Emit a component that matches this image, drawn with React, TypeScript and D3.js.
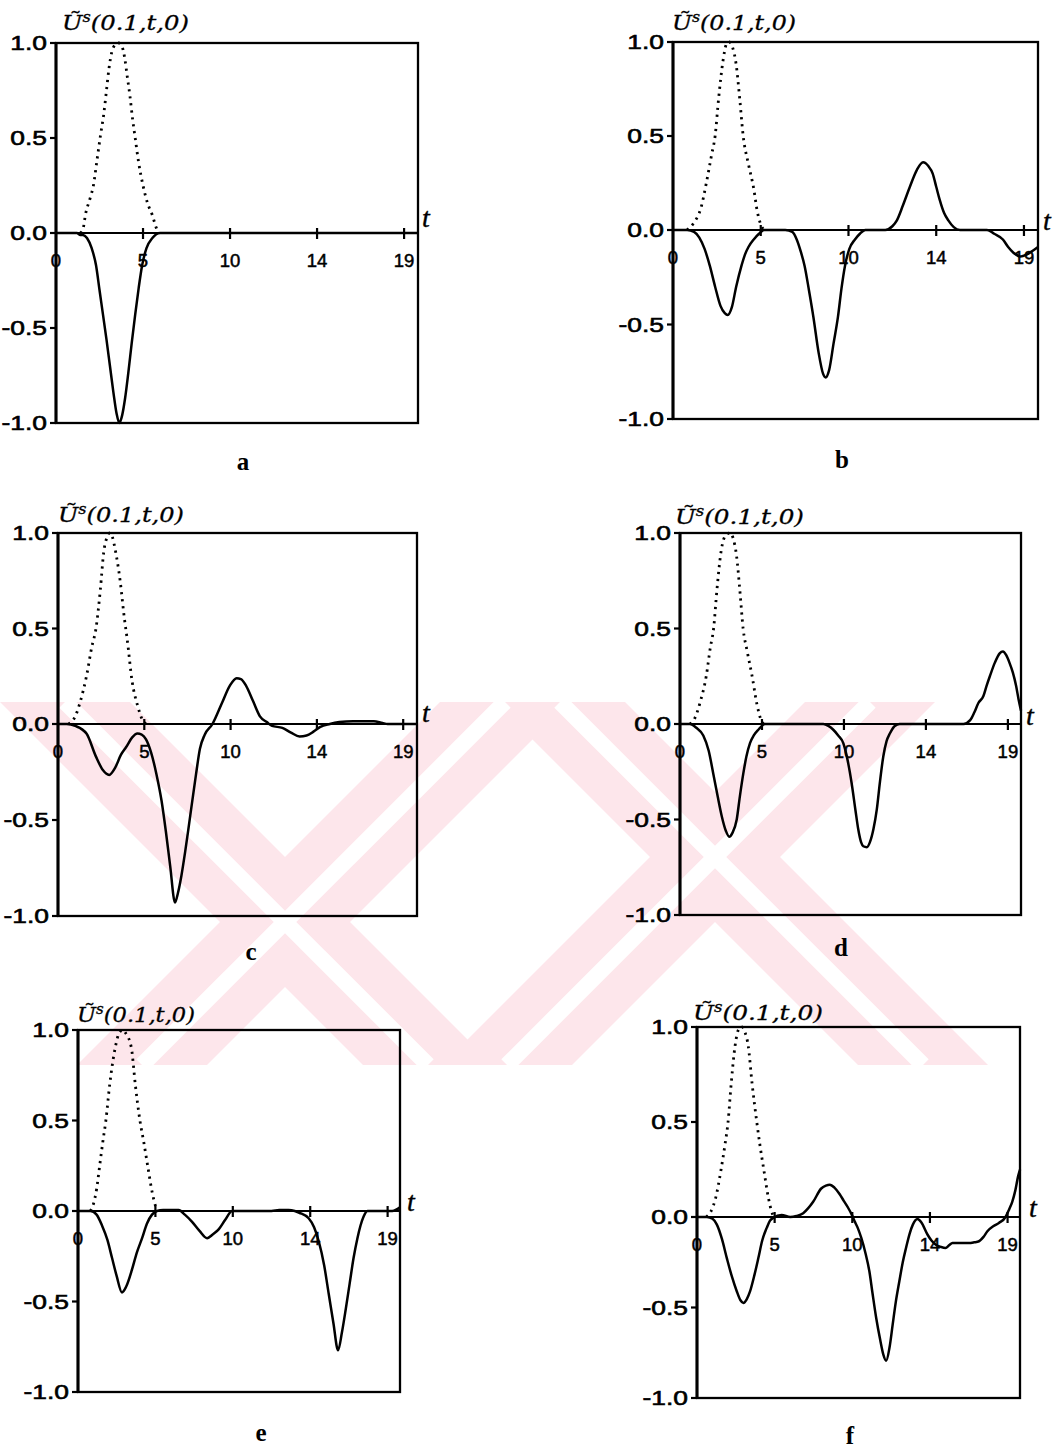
import React from "react";
import * as d3 from "d3";

type Pt = [number, number];

// axis ticks (x positions are equally spaced, labels are the printed ones)
const xTickPos = [0, 5, 10, 15, 20];
const xTickLabels = ["0", "5", "10", "14", "19"];
const yTickVals = [1, 0.5, 0, -0.5, -1];
const yTickLabels = ["1.0", "0.5", "0.0", "-0.5", "-1.0"];
const panelLetters = ["a", "b", "c", "d", "e", "f"];

// dotted input pulse and solid response
const pulseA: Pt[] = [[1.4,0],[1.55,0.02],[1.7,0.1],[1.95,0.18],[2.15,0.25],[2.35,0.38],[2.55,0.51],[2.75,0.63],[2.9,0.75],[3.05,0.87],[3.2,0.95],[3.4,0.99],[3.6,1.0],[3.8,0.98],[3.95,0.92],[4.1,0.82],[4.25,0.72],[4.4,0.6],[4.55,0.5],[4.75,0.37],[5.0,0.25],[5.25,0.16],[5.55,0.09],[5.75,0.03],[5.9,0]];
const respA: Pt[] = [[0,0],[1.2,0],[1.4,-0.01],[1.55,-0.01],[1.78,-0.026],[2.05,-0.08],[2.3,-0.17],[2.5,-0.3],[2.7,-0.43],[2.9,-0.56],[3.1,-0.7],[3.3,-0.84],[3.48,-0.95],[3.64,-1.0],[3.8,-0.96],[3.97,-0.87],[4.15,-0.74],[4.35,-0.58],[4.55,-0.43],[4.75,-0.29],[4.95,-0.17],[5.2,-0.08],[5.55,-0.025],[5.98,0],[20.8,0]];

const pulseB: Pt[] = [[0.8,0],[1.2,0.04],[1.6,0.12],[1.9,0.25],[2.2,0.4],[2.4,0.5],[2.6,0.7],[2.85,0.9],[3.05,0.99],[3.2,1.0],[3.4,0.97],[3.6,0.88],[3.8,0.7],[4.0,0.5],[4.3,0.35],[4.6,0.22],[4.8,0.1],[5.0,0.03],[5.2,0]];
const respB: Pt[] = [[0,0],[0.8,0],[1.2,-0.01],[1.5,-0.04],[1.8,-0.1],[2.1,-0.19],[2.4,-0.3],[2.7,-0.4],[2.95,-0.44],[3.12,-0.45],[3.35,-0.41],[3.6,-0.3],[3.9,-0.19],[4.1,-0.13],[4.3,-0.09],[4.6,-0.05],[4.9,-0.02],[5.2,0],[6.4,0],[6.8,-0.01],[7.05,-0.05],[7.3,-0.12],[7.5,-0.19],[7.75,-0.32],[8.0,-0.46],[8.3,-0.65],[8.55,-0.76],[8.7,-0.78],[8.9,-0.74],[9.15,-0.6],[9.4,-0.46],[9.6,-0.31],[9.8,-0.19],[10.05,-0.1],[10.37,-0.05],[10.65,-0.02],[10.96,0],[12.1,0],[12.5,0.02],[12.75,0.05],[13.1,0.13],[13.5,0.23],[13.9,0.32],[14.25,0.36],[14.55,0.34],[14.8,0.3],[15.0,0.23],[15.2,0.16],[15.45,0.09],[15.7,0.05],[16.0,0.015],[16.35,0],[17.9,0],[18.3,-0.02],[18.8,-0.05],[19.1,-0.09],[19.4,-0.12],[19.8,-0.14],[20.15,-0.13],[20.5,-0.11],[20.8,-0.09]];

const pulseC: Pt[] = [[0.6,0],[1.0,0.04],[1.3,0.12],[1.65,0.25],[1.95,0.4],[2.2,0.5],[2.45,0.7],[2.65,0.9],[2.85,0.98],[3.0,1.0],[3.15,0.98],[3.3,0.92],[3.6,0.75],[3.85,0.55],[4.0,0.45],[4.3,0.22],[4.6,0.1],[4.9,0.02],[5.1,0]];
const respC: Pt[] = [[0,0],[0.5,0],[1.0,-0.01],[1.65,-0.05],[2.2,-0.17],[2.6,-0.24],[2.97,-0.265],[3.3,-0.23],[3.65,-0.16],[3.95,-0.12],[4.3,-0.07],[4.6,-0.05],[4.85,-0.055],[5.1,-0.08],[5.4,-0.15],[5.7,-0.26],[6.0,-0.4],[6.25,-0.56],[6.5,-0.74],[6.78,-0.93],[6.95,-0.88],[7.15,-0.79],[7.36,-0.67],[7.55,-0.55],[7.75,-0.42],[8.0,-0.26],[8.22,-0.13],[8.5,-0.056],[8.95,0],[9.5,0.11],[9.95,0.2],[10.35,0.24],[10.6,0.235],[10.9,0.2],[11.3,0.12],[11.7,0.04],[12.1,0.01],[12.4,-0.01],[13.0,-0.02],[13.5,-0.045],[14.0,-0.065],[14.4,-0.06],[14.8,-0.04],[15.2,-0.015],[15.75,0],[16.3,0.01],[17.1,0.015],[18.3,0.015],[18.8,0.005],[19.1,0],[20.8,0]];

const pulseD: Pt[] = [[0.6,0],[0.9,0.03],[1.25,0.12],[1.6,0.25],[1.85,0.4],[2.05,0.5],[2.25,0.7],[2.5,0.9],[2.8,0.99],[3.05,1.0],[3.25,0.97],[3.45,0.88],[3.65,0.7],[3.85,0.5],[4.1,0.38],[4.4,0.25],[4.7,0.1],[4.95,0.02],[5.1,0]];
const respD: Pt[] = [[0,0],[0.6,0],[1.0,-0.02],[1.42,-0.06],[1.75,-0.14],[2.03,-0.26],[2.3,-0.38],[2.54,-0.48],[2.8,-0.56],[3.0,-0.59],[3.2,-0.57],[3.46,-0.5],[3.65,-0.38],[3.86,-0.26],[4.05,-0.17],[4.27,-0.1],[4.5,-0.06],[4.78,-0.03],[5.18,0],[8.74,0],[9.05,-0.01],[9.35,-0.03],[9.65,-0.06],[9.96,-0.1],[10.2,-0.18],[10.47,-0.31],[10.7,-0.45],[10.87,-0.55],[11.05,-0.62],[11.18,-0.64],[11.4,-0.645],[11.58,-0.62],[11.8,-0.55],[12.0,-0.45],[12.2,-0.3],[12.4,-0.17],[12.6,-0.09],[12.8,-0.05],[13.1,-0.01],[13.4,0],[17.3,0],[17.7,0.02],[17.95,0.06],[18.2,0.11],[18.5,0.145],[18.7,0.2],[18.9,0.25],[19.2,0.32],[19.5,0.37],[19.7,0.38],[19.9,0.36],[20.1,0.32],[20.3,0.27],[20.5,0.2],[20.65,0.13],[20.8,0.07]];

const pulseE: Pt[] = [[0.8,0],[1.0,0.04],[1.2,0.12],[1.4,0.25],[1.6,0.38],[1.8,0.5],[2.05,0.7],[2.4,0.9],[2.7,0.99],[2.9,1.0],[3.1,0.98],[3.45,0.9],[3.7,0.7],[4.0,0.5],[4.25,0.38],[4.5,0.25],[4.8,0.1],[5.0,0.03],[5.15,0]];
const respE: Pt[] = [[0,0],[0.8,0],[1.2,-0.02],[1.55,-0.08],[1.9,-0.16],[2.2,-0.26],[2.5,-0.36],[2.84,-0.45],[3.1,-0.42],[3.5,-0.32],[3.8,-0.23],[4.14,-0.15],[4.45,-0.07],[4.78,-0.02],[5.1,0],[5.5,0.005],[6.5,0.005],[6.9,-0.02],[7.37,-0.06],[7.85,-0.11],[8.34,-0.15],[8.7,-0.13],[9.1,-0.1],[9.5,-0.05],[9.96,0],[12.5,0],[13.0,0.005],[13.6,0.005],[14.0,0],[14.3,-0.01],[14.9,-0.04],[15.25,-0.09],[15.56,-0.17],[15.9,-0.3],[16.2,-0.46],[16.5,-0.62],[16.8,-0.77],[17.05,-0.67],[17.3,-0.54],[17.55,-0.4],[17.8,-0.26],[18.05,-0.15],[18.25,-0.08],[18.45,-0.03],[18.7,0],[20.3,0],[20.8,0.02]];

const pulseF: Pt[] = [[0.6,0],[0.9,0.03],[1.2,0.1],[1.55,0.25],[1.8,0.38],[2.0,0.5],[2.2,0.7],[2.45,0.9],[2.7,0.99],[2.9,1.0],[3.1,0.97],[3.3,0.9],[3.55,0.7],[3.85,0.5],[4.05,0.38],[4.3,0.25],[4.6,0.1],[4.8,0.03],[4.95,0]];
const respF: Pt[] = [[0,0],[0.64,0],[1.0,-0.01],[1.28,-0.042],[1.6,-0.12],[1.92,-0.227],[2.25,-0.33],[2.56,-0.41],[2.8,-0.46],[2.99,-0.475],[3.2,-0.455],[3.42,-0.41],[3.7,-0.32],[3.95,-0.227],[4.2,-0.13],[4.49,-0.06],[4.7,-0.02],[4.91,-0.005],[5.45,0.01],[6.0,0],[6.4,0.005],[6.84,0.02],[7.15,0.045],[7.48,0.08],[8.0,0.15],[8.3,0.165],[8.55,0.17],[8.85,0.155],[9.19,0.12],[9.45,0.085],[9.72,0.05],[9.95,0.015],[10.15,-0.024],[10.35,-0.06],[10.58,-0.116],[10.85,-0.2],[11.1,-0.3],[11.3,-0.42],[11.54,-0.558],[11.8,-0.68],[12.0,-0.76],[12.18,-0.794],[12.4,-0.72],[12.6,-0.595],[12.8,-0.47],[13.03,-0.355],[13.25,-0.25],[13.46,-0.171],[13.7,-0.09],[13.9,-0.042],[14.2,-0.011],[14.45,-0.03],[14.85,-0.098],[15.1,-0.13],[15.38,-0.153],[15.7,-0.165],[16.0,-0.171],[16.25,-0.155],[16.45,-0.144],[17.5,-0.144],[17.85,-0.14],[18.16,-0.134],[18.45,-0.11],[18.7,-0.079],[19.1,-0.05],[19.44,-0.033],[19.87,0],[20.1,0.04],[20.3,0.08],[20.5,0.14],[20.68,0.215],[20.8,0.25]];

const pulses = [pulseA, pulseB, pulseC, pulseD, pulseE, pulseF];
const responses = [respA, respB, respC, respD, respE, respF];

// pixel boxes of the six scanned panels
const boxes = [
  { l: 56, r: 418, t: 43, z: 233, b: 423, tx: 62, ty: 30, tw: 127, lx: 243, ly: 470, ax: 422, ay: 227 },
  { l: 673, r: 1038, t: 42, z: 230, b: 419, tx: 672, ty: 30, tw: 124, lx: 842, ly: 468, ax: 1043, ay: 230 },
  { l: 58, r: 417, t: 533, z: 724, b: 916, tx: 58, ty: 522, tw: 126, lx: 251, ly: 960, ax: 422, ay: 722 },
  { l: 680, r: 1021, t: 533, z: 724, b: 915, tx: 675, ty: 524, tw: 129, lx: 841, ly: 956, ax: 1026, ay: 725 },
  { l: 78, r: 400, t: 1030, z: 1211, b: 1392, tx: 77, ty: 1022, tw: 118, lx: 261, ly: 1441, ax: 407, ay: 1211 },
  { l: 697, r: 1020, t: 1027, z: 1217, b: 1398, tx: 693, ty: 1020, tw: 130, lx: 850, ly: 1444, ax: 1029, ay: 1217 },
];

// faint scanned watermark behind the middle of the page: crossing diagonal bands
const markBands: [number, number, number, number][] = [
  // top-left x, top-right x, bottom-left x, bottom-right x   (y 702 -> 1065)
  [0, 130, 363, 493],
  [440, 570, 77, 207],
  [495, 625, 858, 988],
  [805, 935, 442, 572],
];

const sans = "'Liberation Sans', Arial, sans-serif";
const serif = "'Liberation Serif', 'Times New Roman', serif";

const Watermark = () => {
  const top = 702;
  const bot = 1065;
  return (
    <g>
      {markBands.map((m, k) => (
        <polygon key={"b" + k} points={`${m[0]},${top} ${m[1]},${top} ${m[3]},${bot} ${m[2]},${bot}`} fill="#fde6eb" />
      ))}
      {markBands.map((m, k) => (
        <line
          key={"w" + k}
          x1={(m[0] + m[1]) / 2}
          y1={top}
          x2={(m[2] + m[3]) / 2}
          y2={bot}
          stroke="#fff"
          strokeWidth={16}
        />
      ))}
    </g>
  );
};

const Panel = ({ i }: { i: number }) => {
  const bx = boxes[i];
  const x = d3.scaleLinear().domain([0, 20.8]).range([bx.l, bx.r]);
  const y = d3.scaleLinear().domain([-1, 0, 1]).range([bx.b, bx.z, bx.t]);
  const line = d3
    .line<Pt>()
    .x((d) => x(d[0]))
    .y((d) => y(d[1]))
    .curve(d3.curveMonotoneX);

  return (
    <g>
      {/* frame */}
      <rect x={bx.l} y={bx.t} width={bx.r - bx.l} height={bx.b - bx.t} fill="none" stroke="#000" strokeWidth={2.3} />
      <line x1={bx.l} x2={bx.l} y1={bx.t} y2={bx.b} stroke="#000" strokeWidth={3} />
      <line x1={bx.l} x2={bx.r} y1={y(0)} y2={y(0)} stroke="#000" strokeWidth={2.2} />

      {yTickVals.map((v, k) => (
        <g key={"y" + k}>
          <line x1={bx.l - 6} x2={bx.l} y1={y(v)} y2={y(v)} stroke="#000" strokeWidth={2.2} />
          <g transform={`translate(${bx.l - 9},${y(v) + 7}) scale(1.32,1)`}>
            <text textAnchor="end" fontFamily={sans} fontSize={20} fill="#000" stroke="#000" strokeWidth={0.6}>
              {yTickLabels[k]}
            </text>
          </g>
        </g>
      ))}

      {xTickPos.map((p, k) => (
        <g key={"x" + k}>
          {k > 0 && <line x1={x(p)} x2={x(p)} y1={y(0) - 5} y2={y(0) + 6} stroke="#000" strokeWidth={2.2} />}
          <text x={x(p)} y={y(0) + 34} textAnchor="middle" fontFamily={sans} fontSize={18.5} fill="#000" stroke="#000" strokeWidth={0.5}>
            {xTickLabels[k]}
          </text>
        </g>
      ))}

      <path d={line(pulses[i]) || ""} fill="none" stroke="#000" strokeWidth={2.8} strokeDasharray="2.2 4.8" />
      <path d={line(responses[i]) || ""} fill="none" stroke="#000" strokeWidth={2.5} strokeLinejoin="round" />

      <text
        x={bx.tx}
        y={bx.ty}
        fontFamily="'DejaVu Serif', serif"
        fontStyle="italic"
        fontSize={21}
        textLength={bx.tw}
        lengthAdjust="spacingAndGlyphs"
        fill="#000"
        stroke="#000"
        strokeWidth={0.3}
      >
        Ũ<tspan dy={-8} fontSize={14}>s</tspan>
        <tspan dy={8}>(0.1,t,0)</tspan>
      </text>

      <text x={bx.ax} y={bx.ay} fontFamily={serif} fontStyle="italic" fontSize={28} fill="#000" stroke="#000" strokeWidth={0.4}>
        t
      </text>
      <text x={bx.lx} y={bx.ly} textAnchor="middle" fontFamily={serif} fontWeight="bold" fontSize={25} fill="#000">
        {panelLetters[i]}
      </text>
    </g>
  );
};

export default function App() {
  return (
    <svg
      width={1058}
      height={1451}
      style={{ position: "absolute", left: 0, top: 0, background: "#fff" }}
    >
      <rect width={1058} height={1451} fill="#fff" />
      <Watermark />
      {boxes.map((_, i) => (
        <Panel key={i} i={i} />
      ))}
    </svg>
  );
}
